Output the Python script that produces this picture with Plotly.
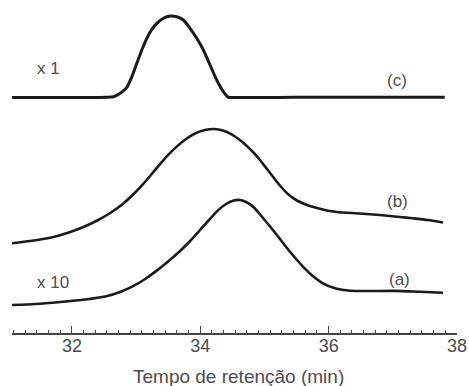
import plotly.graph_objects as go

# Retention time (min) and detector signal (arbitrary units, offset per trace)
t_c = [31.066, 31.40, 31.75, 32.10, 32.40, 32.55, 32.647, 32.752, 32.856, 32.934, 33.011, 33.089,
       33.167, 33.245, 33.323, 33.425, 33.529, 33.634, 33.736, 33.840, 33.945, 34.048, 34.152,
       34.256, 34.359, 34.437, 34.55, 34.80, 35.20, 35.70, 36.30, 36.90, 37.40, 37.808]
s_c = [235.4, 235.5, 235.5, 235.6, 235.6, 235.7, 236.3, 239.7, 245.7, 256.3, 269.7, 283.0,
       294.7, 303.7, 309.7, 314.7, 317.0, 316.3, 313.0, 304.7, 294.7, 283.0, 268.0,
       253.0, 241.3, 235.7, 235.6, 235.6, 235.6, 235.7, 235.7, 235.7, 235.7, 235.7]

t_b = [31.066, 31.351, 31.662, 31.927, 32.180, 32.394, 32.596, 32.783, 32.958, 33.094, 33.218,
       33.343, 33.478, 33.623, 33.789, 33.934, 34.090, 34.199, 34.307, 34.416, 34.541, 34.665,
       34.821, 34.930, 35.039, 35.148, 35.241, 35.365, 35.506, 35.661, 35.817, 35.972, 36.128,
       36.486, 36.797, 37.108, 37.310, 37.544, 37.782]
s_b = [89.7, 92.0, 95.2, 100.0, 106.0, 112.5, 120.0, 128.5, 138.7, 147.8, 157.0,
       166.6, 176.6, 185.9, 194.5, 200.0, 203.2, 204.0, 203.3, 201.0, 196.5, 190.5,
       181.0, 173.0, 164.0, 155.0, 147.5, 139.0, 132.5, 128.0, 125.0, 122.5, 121.0,
       119.5, 118.0, 116.0, 114.7, 113.0, 110.5]

t_a = [31.066, 31.429, 31.818, 32.207, 32.518, 32.752, 32.954, 33.141, 33.327, 33.498, 33.685,
       33.841, 33.996, 34.152, 34.276, 34.401, 34.510, 34.619, 34.728, 34.836, 34.977, 35.132,
       35.319, 35.506, 35.708, 35.910, 36.112, 36.330, 36.641, 37.057, 37.419, 37.782]
s_a = [28.0, 29.0, 31.0, 33.5, 36.5, 41.0, 46.8, 54.0, 62.6, 71.4, 82.0,
       92.0, 103.0, 114.2, 122.6, 129.0, 132.3, 133.0, 130.5, 125.5, 115.0, 103.0,
       87.5, 73.0, 59.5, 49.7, 44.5, 42.3, 42.0, 42.1, 41.2, 40.3]

x_ticks = [32, 34, 36, 38]
labels = ["(a)", "(b)", "(c)"]
scales = ["x 10", "x 1"]

LINE = "#1a1a1a"
TXT = "#4d4d4d"
FONT = "Liberation Sans, Arial, sans-serif"

fig = go.Figure()
for t, s, w in [(t_c, s_c, 3.0), (t_b, s_b, 2.6), (t_a, s_a, 2.6)]:
    fig.add_trace(go.Scatter(x=t, y=s, mode="lines",
                             line=dict(color=LINE, width=w, shape="spline", smoothing=0.6),
                             hoverinfo="skip", showlegend=False))

ann = [
    (scales[1], 31.43, 264.5, "left"),
    (labels[2], 37.06, 253.0, "center"),
    (labels[1], 37.08, 131.3, "center"),
    (labels[0], 37.11, 54.0, "center"),
    (scales[0], 31.43, 51.0, "left"),
]
for text, x, y, xa in ann:
    fig.add_annotation(x=x, y=y, xref="x", yref="y", text=text, showarrow=False,
                       xanchor=xa, yanchor="middle", font=dict(family=FONT, size=17, color=TXT))

fig.add_annotation(x=34.588, y=-0.132, xref="x", yref="paper", text="Tempo de retenção (min)",
                   showarrow=False, xanchor="center", yanchor="middle",
                   font=dict(family=FONT, size=19, color=TXT))

fig.update_layout(
    width=469, height=386,
    margin=dict(l=12, r=12, t=0, b=53),
    paper_bgcolor="white", plot_bgcolor="white",
    xaxis=dict(range=[31.066, 38.0], tickvals=x_ticks, ticktext=[str(v) for v in x_ticks],
               ticks="inside", ticklen=7, tickwidth=1.3, tickcolor="#444",
               showline=True, linecolor="#444", linewidth=1.5,
               showgrid=False, zeroline=False, ticklabelstandoff=-4,
               tickfont=dict(family=FONT, size=18, color=TXT),
               minor=dict(dtick=2/11, tick0=32, ticks="inside", ticklen=3, tickwidth=1.2,
                          tickcolor="#444", showgrid=False)),
    yaxis=dict(range=[0, 333], visible=False, showgrid=False, zeroline=False),
)

fig.write_html("out.html")
